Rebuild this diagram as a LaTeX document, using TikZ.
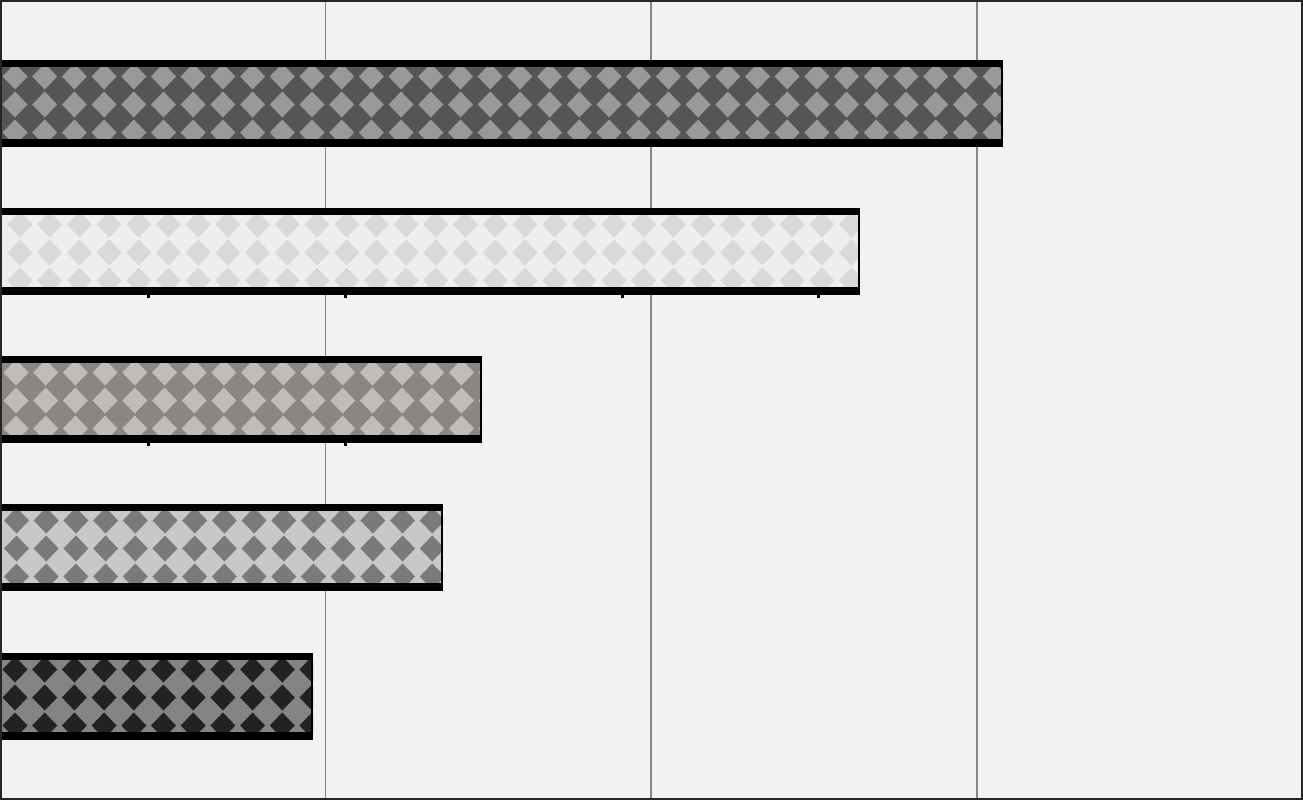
\documentclass[tikz,border=0pt]{standalone}
\usepackage{tikz}
\tikzset{>=latex}
\definecolor{pagebg}{HTML}{F2F2F2}
\definecolor{gridgray}{HTML}{858585}
\definecolor{barA}{HTML}{555555}
\definecolor{dotA}{HTML}{999999}
\definecolor{barB}{HTML}{EEEEEE}
\definecolor{dotB}{HTML}{D9D9D9}
\definecolor{barC}{HTML}{8A8684}
\definecolor{dotC}{HTML}{C0BCBA}
\definecolor{barD}{HTML}{C8C8C8}
\definecolor{dotD}{HTML}{7A7A7A}
\definecolor{barE}{HTML}{848484}
\definecolor{dotE}{HTML}{222222}
% #1 top, #2 right end, #3 fill, #4 diamonds, #5 phase
\newcommand{\patbar}[5]{%
	\begin{scope}
		\clip (0,#1+7) rectangle (#2,#1+79);
		\fill[#3] (0,#1) rectangle (#2,#1+87);
		\foreach \j in {0,1,2}
		{
			\foreach \i in {0,...,34}
			{
				\fill[#4] ({#5+\i*29.7-12.5},{#1+16.5+28*\j}) -- ++(12.5,-13) -- ++(12.5,13) -- ++(-12.5,13) -- cycle;
			}
		}
	\end{scope}
	%
	\fill[black] (0,#1) rectangle (#2,#1+7);
	\fill[black] (0,#1+79) rectangle (#2,#1+87);
	\draw[line width=1pt] (#2-1,#1) -- (#2-1,#1+87);
}

\begin{document}
\begin{tikzpicture}[x=0.5pt, y=-0.5pt, line cap=butt]
	
	% Background
	\useasboundingbox (0,0) rectangle (1303,800);
	\fill[pagebg] (0,0) rectangle (1303,800);
	
	% Grid Lines
	\foreach \x in {325.5,651,977}
	{
		\draw[gridgray, line width=0.7pt] (\x,0) -- (\x,800);
	}
	
	% Bars
	\patbar{60}{1003}{barA}{dotA}{15}
	\patbar{208}{860}{barB}{dotB}{20}
	\patbar{356}{482}{barC}{dotC}{16}
	\patbar{504}{443}{barD}{dotD}{16.5}
	\patbar{653}{313}{barE}{dotE}{15}
	
	% Small Ticks
	\foreach \x in {148,345,622,818}
	{
		\fill[black] (\x-1.5,294) rectangle (\x+1.5,298);
	}
	\foreach \x in {148,345}
	{
		\fill[black] (\x-1.5,442) rectangle (\x+1.5,446);
	}
	
	% Frame
	\draw[black!85, line width=1pt] (1,1) rectangle (1302,799);
\end{tikzpicture}
\end{document}
